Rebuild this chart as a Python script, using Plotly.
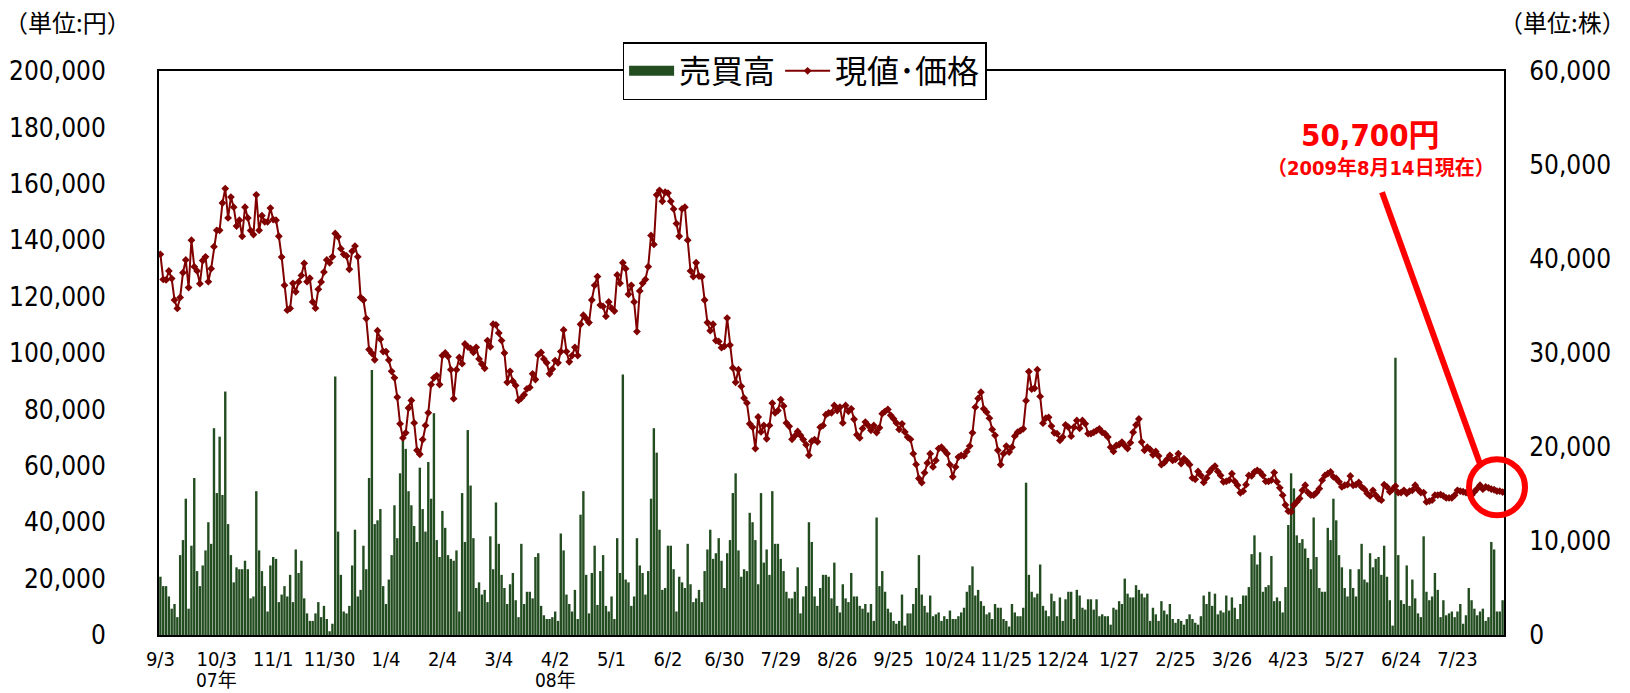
import plotly.graph_objects as go

# ---------------- data ----------------
tick_labels = ["9/3", "10/3", "11/1", "11/30", "1/4", "2/4", "3/4", "4/2", "5/1", "6/2",
               "6/30", "7/29", "8/26", "9/25", "10/24", "11/25", "12/24", "1/27", "2/25",
               "3/26", "4/23", "5/27", "6/24", "7/23"]
year_labels = ["", "07年", "", "", "", "", "", "08年", "", "", "", "", "", "", "", "", "",
               "", "", "", "", "", "", ""]

# trading volume (shares), one value per trading day 2007/9/3 - 2009/8/14
volume = [
    6200, 5200, 5200, 4100, 2800, 3300, 1900, 8500, 10100, 14500,
    2800, 9500, 16700, 6800, 5200, 7400, 9000, 12000, 9700, 22000,
    15100, 21100, 14900, 25900, 11800, 8500, 5600, 7200, 7000, 7000,
    7900, 7000, 3900, 4100, 15300, 9000, 6800, 5200, 2500, 7400,
    8300, 8100, 3500, 4300, 5200, 4100, 6400, 3500, 9100, 6600,
    7900, 3900, 2300, 1500, 1500, 2300, 3500, 1900, 3100, 1700,
    400, 1200, 27500, 11000, 6400, 2500, 2300, 3100, 7400, 11200,
    4100, 4800, 9500, 7000, 16700, 28200, 11800, 12200, 13400, 5200,
    3300, 5900, 8500, 13800, 10300, 17200, 20800, 19800, 15300, 13800,
    11600, 9900, 17800, 13400, 11000, 18400, 14500, 23600, 10100, 8300,
    13200, 11400, 8500, 8100, 7900, 9000, 2500, 15100, 9900, 21800,
    15900, 10300, 5000, 5600, 4300, 4800, 3500, 10500, 7000, 14100,
    9700, 6400, 5000, 3300, 5400, 6600, 3700, 1900, 9700, 3300,
    4600, 4600, 3900, 8300, 8700,
    3100, 2100, 1700, 1700, 1900, 2500, 1500, 10800, 9000, 4300,
    3300, 2500, 4800, 1700, 12800, 15300, 6400, 2300, 6600, 9500,
    3200, 6800, 8500, 3100, 2500, 4100, 1700, 10300, 6600, 27700,
    5900, 5600, 3100, 4100, 10300, 7400, 6600, 4300, 6800, 14500,
    22000, 19400, 11200, 4800, 5000, 9500, 9500, 7000, 2500, 6200,
    5600, 5000, 9700, 5400, 3500, 3900, 4800, 3500, 6800, 9100,
    11200, 8100, 8700, 10300, 7900, 5000, 8700, 10100, 15100, 17200,
    9000, 6200, 7000, 6800, 13000, 12000, 10100, 5400, 15100, 7700,
    9100, 6400, 15300, 9700, 9700, 8100, 6800, 4600, 3900, 3900,
    4600, 7200, 2300, 4100, 5200, 12000, 9900, 4100, 3100, 5000,
    6400, 6400, 6200, 3900, 7700, 3100, 2400, 5400, 3900, 3500,
    6600, 4100, 4100, 3100, 2800, 3300, 2400, 3300, 1500, 12500,
    5200, 6800, 4600, 2800, 2400, 1500, 1200, 1500, 4300, 1000,
    2300, 2300, 3300, 5000, 8500, 4300,
    3100, 2400, 4200, 2000, 2200, 2400, 1500, 2000, 1700, 2600,
    1700, 1700, 2000, 2400, 2900, 4600, 5300, 7300, 4200, 4800,
    3600, 3100, 2200, 2400, 1700, 3300, 2900, 2900, 1700, 1500,
    900, 3300, 2400, 2000, 2000, 2900, 16200, 6400, 4600, 4000,
    4400, 7500, 3100, 2600, 2000, 4400, 3600, 2000, 4000, 1500,
    3800, 4600, 4600, 1700, 4800, 4200, 2900, 2700, 3800, 3800,
    2700, 3800, 2000, 2200, 2000, 2000, 1100, 2900, 2700, 3600,
    3300, 6000, 4400, 4000, 4000, 5300, 4800, 4400, 4000, 4400,
    1500, 2900, 2200, 1500, 3600, 2600, 2200, 3300, 1700, 1300,
    1700, 1500, 1100, 1700, 2200, 1700, 1300, 1100, 2000, 4200,
    3300, 4600, 3100, 4400, 2200, 2600, 2400, 4200, 2600, 4000,
    2900, 1700, 3300, 4200, 4200, 5100, 8600, 10600, 7500, 8800,
    4600, 5100, 5300, 8400, 3600, 4000, 3600, 2400, 5100, 11700,
    17200, 15600, 10600, 9800, 10200, 9200, 8200,
    7000, 12500, 8300, 5000, 4600, 4600, 11400, 10100, 14500, 12200,
    8500, 7200, 5000, 4100, 7000, 5000, 4100, 7000, 9700, 5900,
    5600, 8700, 7200, 8100, 8300, 6400, 9500, 6200, 3700, 1000,
    29500, 8500, 3700, 3300, 7400, 3100, 5900, 3900, 2300, 1900,
    10500, 4600, 3700, 4100, 6600, 4800, 1900, 3700, 2100, 2300,
    2500, 1900, 2500, 3300, 1200, 2100, 5000, 3700, 2800, 2100,
    2500, 2800, 1500, 1900, 9900, 9100, 2500, 2500, 3700,
]

# current price (yen)
price = [
    135000, 126100, 125900, 129100, 126400, 118800, 115800, 119700, 128500, 133000,
    123200, 140000, 130600, 129100, 124600, 132800, 134100, 125300, 129900, 137700,
    143500, 143500, 153200, 158300, 147900, 155300, 151700, 145000, 147100, 141400,
    151700, 147900, 143400, 142000, 156100, 143500, 148700, 146500, 146500, 151400,
    147300, 147100, 141400, 134000, 124000, 115200, 115800, 124700, 121700, 125200,
    127500, 131800, 125300, 126500, 118100, 115900, 122600, 125200, 128700, 133000,
    132000, 134100, 142400, 141200, 137000, 135000, 134400, 129700, 136100, 137900,
    134100, 119700, 118800, 112200, 101200, 99900, 97600, 107900, 104900, 100500,
    100500, 97500, 93500, 91200, 84300, 74900, 69900, 71700, 80500, 83200,
    75200, 65500, 64100, 69300, 74300, 78800, 88800, 91200, 92000, 88800,
    99100, 100000, 98800, 94100, 83800, 94100, 98400, 96200, 103200, 102200,
    101600, 100200, 102000, 97900, 96100, 94600, 104400, 102200, 110200, 110000,
    107100, 104400, 100000, 89600, 93500, 90000, 88500, 83200, 84000, 85200,
    87300, 87800, 92600, 90600, 99300,
    100200, 97900, 96500, 92600, 94300, 97300, 96500, 100500, 108200, 100500,
    96900, 99100, 102000, 99100, 110200, 113400, 112200, 110800, 118800, 124000,
    127100, 117000, 116500, 113000, 118100, 115900, 114900, 127700, 124700, 132000,
    129900, 120800, 124000, 118100, 107600, 122000, 124700, 126100, 130600, 141700,
    138500, 156100, 157700, 153800, 157000, 156700, 153800, 151100, 145900, 141400,
    151100, 151700, 140000, 129100, 127100, 132000, 127300, 127000, 118800, 110800,
    107900, 110200, 104400, 104100, 101900, 102400, 112400, 102800, 94700, 89600,
    94100, 88200, 84000, 82300, 74900, 73700, 66100, 77300, 72000, 74300,
    69600, 74300, 82200, 78800, 79600, 83500, 81200, 75200, 74000, 69400,
    70600, 72200, 70800, 69300, 67500, 63700, 68700, 69300, 68500, 73700,
    74300, 78100, 78800, 78800, 81400, 79600, 80800, 75200, 81400, 79300,
    80200, 76500, 71000, 69900, 73200, 75500, 74300, 72600, 74300, 71800,
    73500, 78500, 79300, 80000, 77900, 76700, 75200, 72900, 74900, 72000,
    70200, 69400, 64300,
    60500, 55500, 54000, 57500, 61000,
    64300, 59600, 61900, 66100, 66600, 65500, 64300, 60400, 56100, 59600,
    63100, 63700, 63500, 65100, 67000, 71700, 80800, 83900, 86100, 80200,
    79000, 76900, 72900, 70800, 65500, 60400, 64300, 67000, 64900, 66600,
    70500, 71900, 72500, 73100, 83100, 93400, 87200, 87500, 94100, 84600,
    75100, 76900, 77200, 74100, 71700, 71400, 69000, 70200, 74500, 73700,
    70500, 73700, 76100, 73300, 76100, 74900, 71400, 71400, 71900, 72500,
    73100, 71900, 71400, 70200, 66600, 65100, 67200, 67500, 68400, 67200,
    66100, 68200, 71900, 74500, 76600, 68400, 65500, 66600, 65800, 63900,
    65100, 63500, 60400, 61100, 62300, 63700, 61900, 62300, 64300, 60800,
    62500, 61600, 60400, 55700, 55200, 58000, 56600, 54100, 55700, 57800,
    59000, 59900, 58000, 56600, 54300, 54500, 54900, 57200, 54500, 53100,
    50400, 51000, 53300, 56600, 56400, 57800, 58400, 57800, 56600, 54500,
    54500, 54900, 57600, 54300, 52200, 49600, 46100, 43900, 43700, 46100,
    47200, 48400, 51300, 53100, 50500, 49600, 49600, 50500, 51900, 54900,
    56600, 57200, 57800, 56100, 55500, 54300, 52500, 53100, 53300, 56400,
    53100, 53300, 54100, 52500, 51700, 50200, 49300, 51300, 49600, 48400,
    47800, 53300, 52500, 50800, 51700, 52800, 50500, 50500, 51300, 50200,
    51000, 51300, 53100, 51600, 50500, 50500, 47200, 47500, 47800, 49600,
    49600, 49800, 49300, 48600, 48600, 48600, 49600, 51300, 51000, 50800,
    50500, 50200, 49600, 50800, 51900, 53100, 51700, 52500, 52200, 51700,
    51500, 51000, 51000, 50700,
]

# ---------------- figure ----------------
n = len(price)
x = list(range(n))
tickvals = list(range(0, 20 * len(tick_labels), 20))

BAR = "#234d20"
LINE = "#800000"
NUMFONT = "Liberation Sans Narrow, DejaVu Sans Condensed, Noto Sans CJK JP"
JPFONT = "Noto Sans CJK JP"

fig = go.Figure()
fig.add_trace(go.Bar(x=x, y=volume, yaxis="y", name="売買高", showlegend=False,
                     marker=dict(color=BAR, line=dict(width=0))))
# legend entry for the bars (wide block symbol)
fig.add_trace(go.Scatter(x=[None], y=[None], yaxis="y", mode="lines", name="売買高",
                         line=dict(color=BAR, width=20)))
fig.add_trace(go.Scatter(x=x, y=price, yaxis="y2", mode="lines+markers", name="現値･価格",
                         line=dict(color=LINE, width=2),
                         marker=dict(symbol="diamond", size=6, color=LINE)))

fig.update_layout(
    width=1630, height=693,
    margin=dict(l=159, r=126, t=71, b=58),
    paper_bgcolor="white", plot_bgcolor="white",
    bargap=0.15,
    showlegend=True,
    legend=dict(orientation="h", x=0.48, xanchor="center", y=1.0, yanchor="middle",
                bgcolor="white", bordercolor="black", borderwidth=1.5,
                font=dict(size=32, family=JPFONT, color="black"), itemwidth=45,
                traceorder="normal", tracegroupgap=0),
    xaxis=dict(range=[-0.5, n - 0.5], tickmode="array", tickvals=tickvals, ticktext=tick_labels,
               tickangle=0,
               showgrid=False, zeroline=False, showline=True, linecolor="black", linewidth=2,
               mirror=True, ticks="outside", ticklen=5, tickcolor="rgba(0,0,0,0)",
               automargin=False,
               tickfont=dict(size=20, family=NUMFONT, color="black")),
    yaxis=dict(range=[0, 60000], dtick=10000, tickformat=",d", side="right",
               showgrid=False, zeroline=False, showline=True, linecolor="black", linewidth=2,
               ticks="outside", ticklen=18, tickcolor="rgba(0,0,0,0)", automargin=False,
               tickfont=dict(size=26, family=NUMFONT, color="black")),
    yaxis2=dict(range=[0, 200000], dtick=20000, tickformat=",d", side="left", overlaying="y",
                showgrid=False, zeroline=False, showline=True, linecolor="black", linewidth=2,
                ticks="outside", ticklen=46, tickcolor="rgba(0,0,0,0)", automargin=False,
                tickfont=dict(size=26, family=NUMFONT, color="black")),
)

# year markers under the category labels
for tv, yl in zip(tickvals, year_labels):
    if yl:
        fig.add_annotation(text=yl, xref="x", yref="paper", x=tv, y=-0.080, xanchor="center",
                           yanchor="middle", showarrow=False, borderpad=0,
                           font=dict(size=19, family=NUMFONT, color="black"))

fig.add_annotation(text="（単位:円）", xref="paper", yref="paper", x=-0.068, y=1.087,
                   xanchor="center", yanchor="middle", showarrow=False,
                   font=dict(size=24, family=JPFONT, color="black"))
fig.add_annotation(text="（単位:株）", xref="paper", yref="paper", x=1.0435, y=1.087,
                   xanchor="center", yanchor="middle", showarrow=False,
                   font=dict(size=24, family=JPFONT, color="black"))
fig.add_annotation(text="<b>50,700円</b>", xref="paper", yref="paper", x=0.9004, y=0.886,
                   xanchor="center", yanchor="middle", showarrow=False,
                   font=dict(size=31, family=NUMFONT, color="#ff0000"))
fig.add_annotation(text="<b>（2009年8月14日現在）</b>", xref="paper", yref="paper",
                   x=0.9085, y=0.828, xanchor="center", yanchor="middle", showarrow=False,
                   font=dict(size=20, family=NUMFONT, color="#ff0000"))

fig.add_shape(type="line", xref="paper", yref="paper", x0=0.9093, y0=0.785, x1=0.9829, y1=0.2984,
              line=dict(color="#ff0000", width=6))
fig.add_shape(type="circle", xref="paper", yref="paper", x0=0.9948 - 0.0208, x1=0.9948 + 0.0208,
              y0=0.262 - 0.0497, y1=0.262 + 0.0497, line=dict(color="#ff0000", width=6))

fig.write_html("out.html")
